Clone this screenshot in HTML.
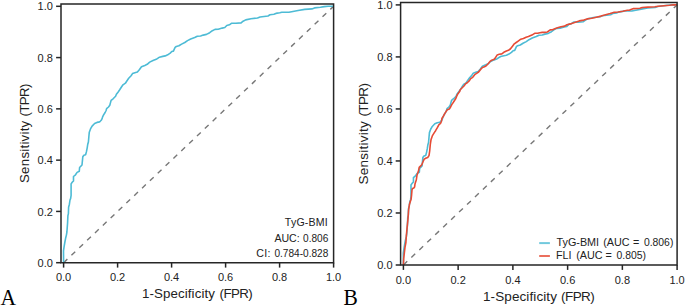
<!DOCTYPE html>
<html><head><meta charset="utf-8"><style>
html,body{margin:0;padding:0;background:#fff;}
body{width:685px;height:305px;overflow:hidden;}
svg{display:block;}
.t{font-family:"Liberation Sans",sans-serif;font-size:11px;fill:#222;}
.lab{font-family:"Liberation Sans",sans-serif;font-size:13.4px;fill:#222;}
.lg{font-family:"Liberation Sans",sans-serif;font-size:10.8px;fill:#222;}
.pl{font-family:"Liberation Serif",serif;font-size:21.5px;fill:#000;}
</style></head><body>
<svg width="685" height="305" viewBox="0 0 685 305">
<rect width="685" height="305" fill="#fff"/>
<line x1="63.6" y1="262.7" x2="333.6" y2="6.3" stroke="#777777" stroke-width="1.4" stroke-dasharray="5.2 5.62"/>
<path d="M63.60,262.70 L63.50,250.90 L64.10,246.70 L64.80,242.50 L65.60,238.30 L66.40,235.10 L66.90,232.00 L67.60,222.60 L67.90,215.70 L68.40,213.60 L68.60,207.30 L69.40,204.20 L70.00,200.00 L70.60,198.60 L71.10,195.30 L71.10,183.90 L72.20,182.20 L73.50,180.90 L73.50,176.50 L75.50,174.80 L77.10,172.40 L79.30,171.20 L79.60,167.50 L82.00,165.00 L82.80,156.80 L83.90,155.20 L85.60,154.80 L86.40,151.90 L87.20,147.80 L87.70,144.50 L88.40,142.00 L88.90,136.30 L89.30,132.20 L90.50,128.90 L92.10,126.10 L94.60,123.50 L97.00,122.40 L99.50,121.90 L100.20,121.30 L101.20,120.30 L102.20,118.40 L102.60,116.90 L103.60,114.90 L105.10,112.50 L106.10,110.50 L106.60,108.60 L108.50,107.00 L109.80,105.30 L111.10,100.40 L113.10,98.80 L115.60,96.30 L116.40,94.30 L118.00,92.20 L119.70,89.80 L121.30,87.30 L123.00,84.80 L125.40,83.20 L127.00,80.70 L128.70,78.30 L131.10,75.80 L132.50,73.60 L134.90,72.80 L137.40,72.00 L139.50,69.50 L141.50,66.70 L144.80,65.40 L147.20,64.30 L149.70,62.10 L153.00,60.50 L156.20,59.30 L159.50,57.20 L162.80,56.40 L165.20,55.90 L167.70,54.80 L170.20,53.10 L171.80,51.50 L173.40,51.10 L175.10,47.40 L176.30,46.50 L178.90,45.80 L181.60,44.10 L184.80,42.50 L187.50,40.60 L190.70,39.00 L194.70,37.50 L197.30,36.20 L200.60,36.00 L203.20,35.10 L206.50,34.40 L209.70,32.70 L212.40,30.70 L215.00,29.40 L218.20,29.20 L222.20,28.10 L224.80,27.50 L226.80,25.50 L229.40,24.80 L231.40,23.30 L235.90,23.30 L241.10,22.90 L243.10,21.20 L245.70,19.90 L251.00,18.70 L257.50,18.00 L260.10,17.00 L268.00,16.00 L270.00,14.80 L273.90,14.20 L275.90,13.40 L279.80,12.70 L281.80,12.20 L288.90,12.30 L292.90,11.50 L298.10,10.50 L304.70,9.40 L311.90,8.90 L314.50,7.90 L320.40,7.20 L324.30,6.60 L328.20,6.30 L333.60,6.30" fill="none" stroke="#4DBBD5" stroke-width="1.6" stroke-linejoin="round"/>
<path d="M61.0,262.7 L61.0,3.9 L333.6,3.9 L333.6,262.7 Z" fill="none" stroke="#262626" stroke-width="1.5" stroke-linejoin="miter"/>
<line x1="56.1" y1="262.70" x2="61.0" y2="262.70" stroke="#262626" stroke-width="1.5"/>
<text x="52.9" y="266.85" text-anchor="end" class="t" style="font-size:11px">0.0</text>
<line x1="63.60" y1="262.7" x2="63.60" y2="267.59999999999997" stroke="#262626" stroke-width="1.5"/>
<text x="63.60" y="280.8" text-anchor="middle" class="t" style="font-size:11px">0.0</text>
<line x1="56.1" y1="211.42" x2="61.0" y2="211.42" stroke="#262626" stroke-width="1.5"/>
<text x="52.9" y="215.57" text-anchor="end" class="t" style="font-size:11px">0.2</text>
<line x1="117.60" y1="262.7" x2="117.60" y2="267.59999999999997" stroke="#262626" stroke-width="1.5"/>
<text x="117.60" y="280.8" text-anchor="middle" class="t" style="font-size:11px">0.2</text>
<line x1="56.1" y1="160.14" x2="61.0" y2="160.14" stroke="#262626" stroke-width="1.5"/>
<text x="52.9" y="164.29" text-anchor="end" class="t" style="font-size:11px">0.4</text>
<line x1="171.60" y1="262.7" x2="171.60" y2="267.59999999999997" stroke="#262626" stroke-width="1.5"/>
<text x="171.60" y="280.8" text-anchor="middle" class="t" style="font-size:11px">0.4</text>
<line x1="56.1" y1="108.86" x2="61.0" y2="108.86" stroke="#262626" stroke-width="1.5"/>
<text x="52.9" y="113.01" text-anchor="end" class="t" style="font-size:11px">0.6</text>
<line x1="225.60" y1="262.7" x2="225.60" y2="267.59999999999997" stroke="#262626" stroke-width="1.5"/>
<text x="225.60" y="280.8" text-anchor="middle" class="t" style="font-size:11px">0.6</text>
<line x1="56.1" y1="57.58" x2="61.0" y2="57.58" stroke="#262626" stroke-width="1.5"/>
<text x="52.9" y="61.73" text-anchor="end" class="t" style="font-size:11px">0.8</text>
<line x1="279.60" y1="262.7" x2="279.60" y2="267.59999999999997" stroke="#262626" stroke-width="1.5"/>
<text x="279.60" y="280.8" text-anchor="middle" class="t" style="font-size:11px">0.8</text>
<line x1="56.1" y1="6.30" x2="61.0" y2="6.30" stroke="#262626" stroke-width="1.5"/>
<text x="52.9" y="10.45" text-anchor="end" class="t" style="font-size:11px">1.0</text>
<line x1="333.60" y1="262.7" x2="333.60" y2="267.59999999999997" stroke="#262626" stroke-width="1.5"/>
<text x="333.60" y="280.8" text-anchor="middle" class="t" style="font-size:11px">1.0</text>
<text y="297.6" class="lab" style="font-size:13.3px"><tspan x="142.0" style="letter-spacing:0.1px">1-Specificity</tspan><tspan x="219.5" style="letter-spacing:-0.55px">(FPR)</tspan></text>
<text transform="translate(28.6,0) rotate(-90)" class="lab" style="font-size:13.3px"><tspan x="-183.0" style="letter-spacing:0.24px">Sensitivity</tspan><tspan x="-116.5" style="letter-spacing:-0.65px">(TPR)</tspan></text>
<text x="328" y="225.7" text-anchor="end" class="lg" style="font-size:10.6px;letter-spacing:0.2px">TyG-BMI</text><text x="274.4" y="241.5" class="lg" style="font-size:10.6px">AUC:</text><text x="328.3" y="241.5" text-anchor="end" class="lg" style="font-size:10.1px">0.806</text><text x="256.3" y="257.0" class="lg" style="font-size:10.6px;letter-spacing:0.3px">CI:</text><text x="328.3" y="257.0" text-anchor="end" class="lg" style="font-size:10.1px">0.784-0.828</text>
<line x1="403.4" y1="265.0" x2="677.1" y2="4.9" stroke="#777777" stroke-width="1.4" stroke-dasharray="5.3 5.67"/>
<path d="M403.40,265.00 L403.30,253.03 L403.91,248.77 L404.62,244.51 L405.43,240.25 L406.24,237.00 L406.75,233.86 L407.45,224.32 L407.76,217.32 L408.27,215.19 L408.47,208.80 L409.28,205.66 L409.89,201.40 L410.50,199.97 L411.00,196.63 L411.00,185.06 L412.12,183.34 L413.44,182.02 L413.44,177.56 L415.46,175.83 L417.08,173.40 L419.32,172.18 L419.62,168.43 L422.05,165.89 L422.86,157.57 L423.98,155.95 L425.70,155.54 L426.51,152.60 L427.32,148.44 L427.83,145.09 L428.54,142.56 L429.05,136.78 L429.45,132.62 L430.67,129.27 L432.29,126.43 L434.82,123.79 L437.26,122.68 L439.79,122.17 L440.50,121.56 L441.52,120.55 L442.53,118.62 L442.93,117.10 L443.95,115.07 L445.47,112.63 L446.48,110.60 L446.99,108.68 L448.92,107.05 L450.23,105.33 L451.55,100.36 L453.58,98.73 L456.11,96.20 L456.92,94.17 L458.55,92.04 L460.27,89.60 L461.89,87.07 L463.61,84.53 L466.05,82.91 L467.67,80.37 L469.39,77.94 L471.82,75.40 L473.24,73.17 L475.68,72.36 L478.21,71.55 L480.34,69.01 L482.37,66.17 L485.71,64.85 L488.15,63.74 L490.68,61.51 L494.03,59.88 L497.27,58.66 L500.61,56.53 L503.96,55.72 L506.39,55.22 L508.93,54.10 L511.46,52.38 L513.08,50.75 L514.70,50.35 L516.43,46.59 L517.64,45.68 L520.28,44.97 L523.02,43.25 L526.26,41.62 L529.00,39.69 L532.24,38.07 L536.30,36.55 L538.93,35.23 L542.28,35.03 L544.91,34.12 L548.26,33.41 L551.50,31.68 L554.24,29.65 L556.87,28.33 L560.12,28.13 L564.17,27.01 L566.81,26.41 L568.84,24.38 L571.47,23.67 L573.50,22.15 L578.06,22.15 L583.33,21.74 L585.36,20.02 L588.00,18.70 L593.37,17.48 L599.96,16.77 L602.59,15.75 L610.60,14.74 L612.63,13.52 L616.58,12.91 L618.61,12.10 L622.56,11.39 L624.59,10.89 L631.79,10.99 L635.84,10.18 L641.11,9.16 L647.80,8.04 L655.10,7.54 L657.74,6.52 L663.72,5.81 L667.67,5.20 L671.63,4.90 L677.10,4.90" fill="none" stroke="#4DBBD5" stroke-width="1.6" stroke-linejoin="round"/>
<path d="M403.40,265.00 L403.70,258.60 L404.40,252.40 L405.00,247.40 L405.90,242.50 L406.40,235.00 L406.90,229.60 L407.40,224.70 L407.90,219.80 L408.30,214.90 L408.60,210.00 L409.40,204.60 L410.40,201.20 L411.10,199.20 L411.60,194.80 L412.00,189.90 L412.60,188.40 L413.80,187.90 L414.60,186.90 L415.00,183.90 L415.60,182.00 L416.30,180.00 L417.00,175.20 L418.40,171.30 L419.20,167.40 L420.50,166.10 L421.80,164.80 L423.10,161.50 L424.20,159.10 L425.70,158.20 L427.70,157.50 L429.00,155.60 L429.70,151.00 L430.30,144.40 L431.00,139.80 L432.30,135.90 L434.30,132.60 L435.60,130.70 L437.50,127.40 L438.80,124.80 L440.50,123.40 L441.40,121.50 L442.00,118.20 L443.40,116.20 L444.70,113.60 L446.00,111.60 L447.30,109.70 L449.30,109.00 L450.60,107.00 L451.90,104.40 L453.20,102.50 L454.50,100.50 L455.80,98.50 L456.50,96.60 L457.80,93.90 L459.80,91.30 L460.20,89.80 L462.20,87.80 L464.20,85.80 L465.50,83.90 L467.50,82.50 L469.40,80.60 L470.70,78.60 L472.70,77.30 L474.70,74.70 L476.60,73.40 L478.60,72.00 L480.60,69.40 L482.50,67.50 L484.50,66.80 L486.50,65.50 L488.40,63.50 L489.80,61.60 L491.70,60.20 L493.70,59.60 L495.20,58.20 L497.20,54.90 L499.20,54.30 L501.80,53.90 L503.80,52.30 L506.40,51.00 L508.40,50.30 L510.30,49.00 L512.30,46.40 L514.30,43.80 L516.20,42.50 L518.20,41.10 L520.80,39.20 L523.40,38.50 L526.10,37.20 L528.40,36.60 L531.90,35.10 L534.70,33.30 L537.60,33.30 L539.90,32.80 L542.20,32.40 L544.50,32.40 L547.40,32.00 L550.20,29.90 L552.50,29.70 L555.40,28.50 L558.30,27.60 L561.10,26.70 L564.60,26.10 L566.90,24.70 L570.30,23.90 L574.60,22.40 L579.20,20.90 L583.80,20.10 L587.20,18.90 L591.80,18.30 L596.40,17.20 L601.00,16.10 L605.60,14.70 L610.10,13.50 L613.60,12.40 L618.20,12.00 L622.80,11.20 L627.30,10.30 L629.60,10.10 L633.60,8.60 L639.90,8.30 L642.20,7.50 L647.90,7.10 L654.80,6.70 L658.30,6.30 L664.00,5.70 L669.70,5.20 L673.20,4.80 L677.10,4.90" fill="none" stroke="#E64B35" stroke-width="1.6" stroke-linejoin="round"/>
<path d="M400.6,265.0 L400.6,2.45 L677.1,2.45 L677.1,265.0 Z" fill="none" stroke="#262626" stroke-width="1.5" stroke-linejoin="miter"/>
<line x1="395.70000000000005" y1="265.00" x2="400.6" y2="265.00" stroke="#262626" stroke-width="1.5"/>
<text x="392.5" y="269.15" text-anchor="end" class="t" style="font-size:11px">0.0</text>
<line x1="403.40" y1="265.0" x2="403.40" y2="269.9" stroke="#262626" stroke-width="1.5"/>
<text x="403.40" y="283.9" text-anchor="middle" class="t" style="font-size:11px">0.0</text>
<line x1="395.70000000000005" y1="212.98" x2="400.6" y2="212.98" stroke="#262626" stroke-width="1.5"/>
<text x="392.5" y="217.13" text-anchor="end" class="t" style="font-size:11px">0.2</text>
<line x1="458.14" y1="265.0" x2="458.14" y2="269.9" stroke="#262626" stroke-width="1.5"/>
<text x="458.14" y="283.9" text-anchor="middle" class="t" style="font-size:11px">0.2</text>
<line x1="395.70000000000005" y1="160.96" x2="400.6" y2="160.96" stroke="#262626" stroke-width="1.5"/>
<text x="392.5" y="165.11" text-anchor="end" class="t" style="font-size:11px">0.4</text>
<line x1="512.88" y1="265.0" x2="512.88" y2="269.9" stroke="#262626" stroke-width="1.5"/>
<text x="512.88" y="283.9" text-anchor="middle" class="t" style="font-size:11px">0.4</text>
<line x1="395.70000000000005" y1="108.94" x2="400.6" y2="108.94" stroke="#262626" stroke-width="1.5"/>
<text x="392.5" y="113.09" text-anchor="end" class="t" style="font-size:11px">0.6</text>
<line x1="567.62" y1="265.0" x2="567.62" y2="269.9" stroke="#262626" stroke-width="1.5"/>
<text x="567.62" y="283.9" text-anchor="middle" class="t" style="font-size:11px">0.6</text>
<line x1="395.70000000000005" y1="56.92" x2="400.6" y2="56.92" stroke="#262626" stroke-width="1.5"/>
<text x="392.5" y="61.07" text-anchor="end" class="t" style="font-size:11px">0.8</text>
<line x1="622.36" y1="265.0" x2="622.36" y2="269.9" stroke="#262626" stroke-width="1.5"/>
<text x="622.36" y="283.9" text-anchor="middle" class="t" style="font-size:11px">0.8</text>
<line x1="395.70000000000005" y1="4.90" x2="400.6" y2="4.90" stroke="#262626" stroke-width="1.5"/>
<text x="392.5" y="9.05" text-anchor="end" class="t" style="font-size:11px">1.0</text>
<line x1="677.10" y1="265.0" x2="677.10" y2="269.9" stroke="#262626" stroke-width="1.5"/>
<text x="677.10" y="283.9" text-anchor="middle" class="t" style="font-size:11px">1.0</text>
<text y="300.7" class="lab" style="font-size:13.5px"><tspan x="483.0" style="letter-spacing:0.1px">1-Specificity</tspan><tspan x="561.0" style="letter-spacing:-0.55px">(FPR)</tspan></text>
<text transform="translate(368.0,0) rotate(-90)" class="lab" style="font-size:13.5px"><tspan x="-184.5" style="letter-spacing:0.25px">Sensitivity</tspan><tspan x="-116.5" style="letter-spacing:-0.65px">(TPR)</tspan></text>
<line x1="539.2" y1="243.1" x2="549.9" y2="243.1" stroke="#4DBBD5" stroke-width="2" stroke-opacity="0.8"/><line x1="539.2" y1="256.0" x2="549.9" y2="256.0" stroke="#E64B35" stroke-width="2" stroke-opacity="0.8"/><text y="246.4" class="lg"><tspan x="556.5">TyG-BMI</tspan><tspan x="603.2">(AUC</tspan><tspan x="632.9">=</tspan><tspan x="643.9" style="font-size:10.4px">0.806)</tspan></text><text y="259.2" class="lg"><tspan x="556.0">FLI</tspan><tspan x="576.2">(AUC</tspan><tspan x="605.6">=</tspan><tspan x="616.6" style="font-size:10.4px">0.805)</tspan></text>
<text transform="translate(0.6,305.2) scale(1,1.1)" class="pl">A</text>
<text transform="translate(343.6,305.2) scale(1,1.1)" class="pl">B</text>
</svg>
</body></html>
